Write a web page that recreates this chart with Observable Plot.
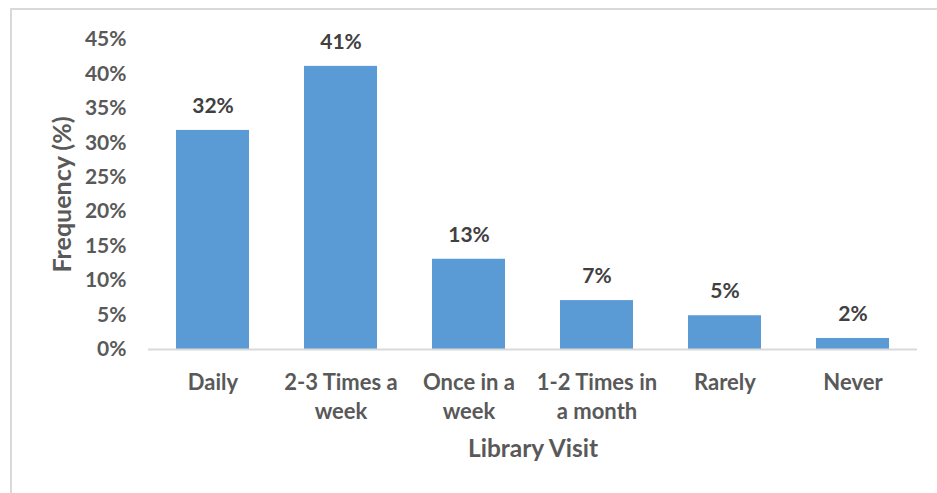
<!DOCTYPE html>
<html><head><meta charset="utf-8">
<script src="https://cdn.jsdelivr.net/npm/d3@7"></script>
<script src="https://cdn.jsdelivr.net/npm/@observablehq/plot@0.6"></script>
<style>
body{margin:0;background:#fff;width:937px;height:493px;overflow:hidden}
#frame{position:absolute;left:10px;top:8px;right:0;bottom:0;border-top:2px solid #d9d9d9;border-left:2px solid #d9d9d9}
#chart{position:absolute;left:0;top:0}
</style>
</head><body>
<div id="frame"></div>
<div id="chart"></div>
<script>
const categories = ["Daily","2-3 Times a week","Once in a week","1-2 Times in a month","Rarely","Never"];
const tickLabels = ["Daily","2-3 Times a\nweek","Once in a\nweek","1-2 Times in\na month","Rarely","Never"];
const values = [31.8, 41.1, 13.1, 7.1, 4.9, 1.6];
const valueLabels = ["32%","41%","13%","7%","5%","2%"];
const yTicks = [0,5,10,15,20,25,30,35,40,45];
const xTitle = "Library Visit";
const yTitle = "Frequency (%)";

const data = categories.map((c,i)=>({cat:c, value:values[i], label:valueLabels[i], tick:tickLabels[i]}));

const chart = Plot.plot({
  width: 937, height: 493,
  marginLeft: 148, marginRight: 20, marginTop: 39, marginBottom: 144,
  style: {fontFamily: "Lato, sans-serif", fontSize: "21px", fontWeight: "bold", color: "#595959", background: "transparent"},
  x: {domain: categories, paddingInner: 0.43, paddingOuter: 0.215, align: 0.5, axis: null},
  y: {domain: [0,45], axis: null},
  marks: [
    Plot.barY(data, {x:"cat", y:"value", fill:"#5B9BD5"}),
    Plot.ruleY([0], {stroke:"#d9d9d9", strokeWidth:2}),
    Plot.text(data, {x:"cat", y:"value", text:"label", dy:-24, fill:"#404040", fontSize:21, fontWeight:"bold"}),
    Plot.text(yTicks, {y: d=>d, text: d=>d+"%", frameAnchor:"left", dx:-22, textAnchor:"end", lineAnchor:"middle", fontSize:21, fontWeight:"bold"}),
    Plot.text(data, {x:"cat", text:"tick", frameAnchor:"bottom", dy:20, lineAnchor:"top", lineHeight:1.32, fontSize:22, fontWeight:"bold"}),
    Plot.text([xTitle], {text: d=>d, frameAnchor:"bottom", dy:100, lineAnchor:"middle", fontSize:24.5, fontWeight:"bold"}),
    Plot.text([yTitle], {text: d=>d, frameAnchor:"left", dx:-86, rotate:-90, lineAnchor:"middle", textAnchor:"middle", fontSize:25, fontWeight:"bold"})
  ]
});
document.getElementById("chart").appendChild(chart);
</script>
</body></html>
